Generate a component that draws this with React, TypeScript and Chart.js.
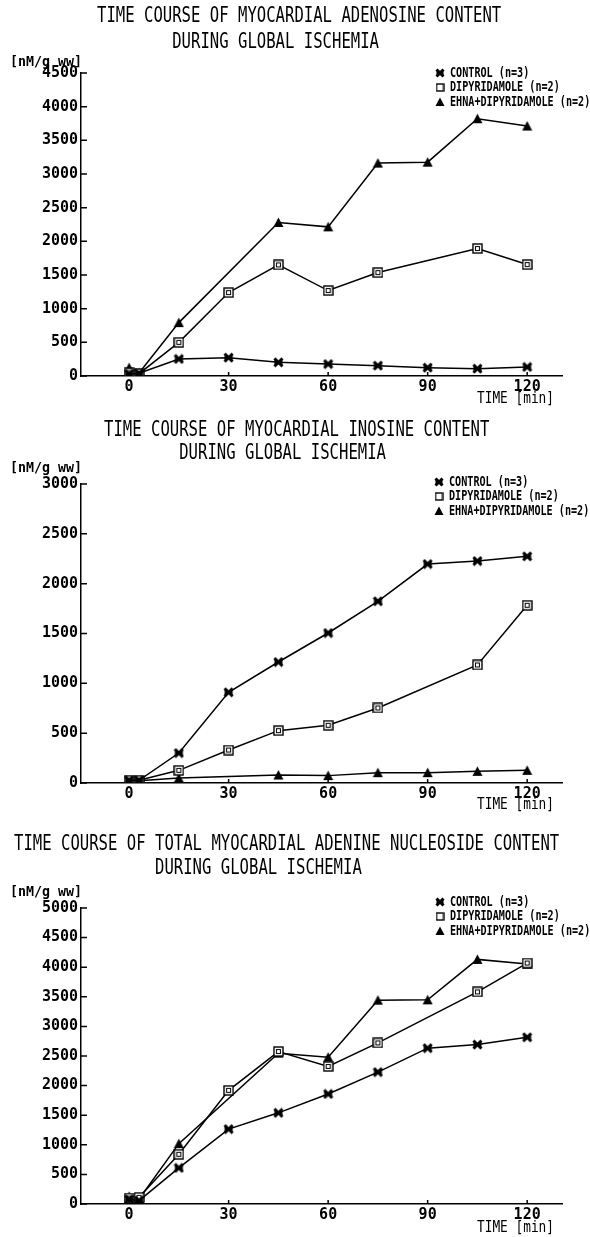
import { useEffect, useRef } from 'react';
import { Chart, registerables } from 'chart.js';

Chart.register(...registerables);

// Sampling times (min) per group
const TIMES_CONTROL = [0, 3, 15, 30, 45, 60, 75, 90, 105, 120];
const TIMES_DIPYRIDAMOLE = [0, 3, 15, 30, 45, 60, 75, 105, 120];
const TIMES_EHNA = [0, 3, 15, 45, 60, 75, 90, 105, 120];
const TIME_TICKS = [0, 30, 60, 90, 120];

const SERIES_LABELS = ['CONTROL (n=3)', 'DIPYRIDAMOLE (n=2)', 'EHNA+DIPYRIDAMOLE (n=2)'];

// Adenosine content [nM/g ww]
const ADENOSINE_CONTROL = [30, 40, 253, 272, 203, 178, 154, 124, 109, 134];
const ADENOSINE_DIPYRIDAMOLE = [45, 35, 500, 1239, 1650, 1269, 1536, 1893, 1655];
const ADENOSINE_EHNA = [125, 45, 793, 2280, 2215, 3162, 3176, 3821, 3712];

// Inosine content [nM/g ww]
const INOSINE_CONTROL = [27, 27, 301, 910, 1214, 1505, 1823, 2197, 2227, 2274];
const INOSINE_DIPYRIDAMOLE = [27, 27, 127, 331, 525, 579, 753, 1184, 1783];
const INOSINE_EHNA = [23, 23, 50, 80, 74, 104, 104, 117, 127];

// Total adenine nucleoside content [nM/g ww]
const TOTAL_CONTROL = [80, 56, 610, 1265, 1540, 1859, 2228, 2632, 2693, 2816];
const TOTAL_DIPYRIDAMOLE = [100, 112, 840, 1920, 2575, 2324, 2721, 3583, 4070];
const TOTAL_EHNA = [129, 84, 1019, 2548, 2480, 3443, 3449, 4132, 4054];

const ADENOSINE_TITLE = ['TIME COURSE OF MYOCARDIAL ADENOSINE CONTENT', 'DURING GLOBAL ISCHEMIA'];
const INOSINE_TITLE = ['TIME COURSE OF MYOCARDIAL INOSINE CONTENT', 'DURING GLOBAL ISCHEMIA'];
const TOTAL_TITLE = ['TIME COURSE OF TOTAL MYOCARDIAL ADENINE NUCLEOSIDE CONTENT', 'DURING GLOBAL ISCHEMIA'];

const Y_UNIT = '[nM/g ww]';
const X_UNIT = 'TIME [min]';
const Y_STEP = 500;
const ADENOSINE_Y_MAX = 4500;
const INOSINE_Y_MAX = 3000;
const TOTAL_Y_MAX = 5000;

const FONT = '"DejaVu Sans Mono", "Liberation Mono", monospace';

const PANELS = [
  {
    top: 0, height: 410, padTop: 73, xAxisH: 34,
    title: ADENOSINE_TITLE, titleX: 97, titleY: [16, 42], indent: 8,
    unitY: 62, timeY: 399, legendY: 73, legendX: 440,
    yMax: ADENOSINE_Y_MAX,
    series: [ADENOSINE_CONTROL, ADENOSINE_DIPYRIDAMOLE, ADENOSINE_EHNA],
  },
  {
    top: 412, height: 400, padTop: 72, xAxisH: 29,
    title: INOSINE_TITLE, titleX: 104, titleY: [18, 41], indent: 8,
    unitY: 56, timeY: 393, legendY: 70, legendX: 439,
    yMax: INOSINE_Y_MAX,
    series: [INOSINE_CONTROL, INOSINE_DIPYRIDAMOLE, INOSINE_EHNA],
  },
  {
    top: 812, height: 425, padTop: 96, xAxisH: 33,
    title: TOTAL_TITLE, titleX: 14, titleY: [32, 56], indent: 15,
    unitY: 80, timeY: 416, legendY: 90, legendX: 440,
    yMax: TOTAL_Y_MAX,
    series: [TOTAL_CONTROL, TOTAL_DIPYRIDAMOLE, TOTAL_EHNA],
  },
];

const SERIES_TIMES = [TIMES_CONTROL, TIMES_DIPYRIDAMOLE, TIMES_EHNA];

// Plotter-style marker glyphs
function makeMarker(kind: string, size: number, inner: boolean) {
  const c = document.createElement('canvas');
  c.width = size;
  c.height = size;
  const ctx = c.getContext('2d')!;
  ctx.fillStyle = '#000';
  ctx.strokeStyle = '#000';
  if (kind === 'cross') {
    const m = 1.5;
    ctx.lineWidth = 3;
    ctx.beginPath();
    ctx.moveTo(m, m);
    ctx.lineTo(size - m, size - m);
    ctx.moveTo(size - m, m);
    ctx.lineTo(m, size - m);
    ctx.stroke();
    ctx.beginPath();
    ctx.moveTo(m, m + 1);
    ctx.lineTo(size / 2, size / 2);
    ctx.lineTo(m, size - m - 1);
    ctx.closePath();
    ctx.moveTo(size - m, m + 1);
    ctx.lineTo(size / 2, size / 2);
    ctx.lineTo(size - m, size - m - 1);
    ctx.closePath();
    ctx.fill();
  } else if (kind === 'square') {
    ctx.fillStyle = '#fff';
    ctx.fillRect(1, 1, size - 2, size - 2);
    ctx.lineWidth = 1.4;
    ctx.strokeRect(1, 1, size - 2, size - 2);
    if (inner) {
      const s = size * 0.36;
      ctx.lineWidth = 1;
      ctx.strokeRect((size - s) / 2, (size - s) / 2, s, s);
    }
  } else {
    ctx.beginPath();
    ctx.moveTo(size / 2, 0.5);
    ctx.lineTo(size - 0.5, size - 1);
    ctx.lineTo(0.5, size - 1);
    ctx.closePath();
    ctx.fill();
  }
  return c;
}

function drawMono(ctx: CanvasRenderingContext2D, text: string, x: number, y: number,
  size: number, advance: number, weight: string) {
  ctx.save();
  ctx.font = `${weight} ${size}px ${FONT}`;
  const natural = ctx.measureText('M').width;
  ctx.translate(x, y);
  ctx.scale(advance / natural, 1);
  ctx.fillStyle = '#000';
  ctx.textAlign = 'left';
  ctx.textBaseline = 'middle';
  ctx.fillText(text, 0, 0);
  ctx.restore();
}

const annotationPlugin = {
  id: 'plotterAnnotations',
  afterDraw(chart: any, _args: any, opts: any) {
    const ctx = chart.ctx as CanvasRenderingContext2D;
    const { chartArea, scales } = chart;
    const p = opts.panel;

    // inward tick marks
    ctx.save();
    ctx.strokeStyle = '#000';
    ctx.lineWidth = 1.5;
    ctx.beginPath();
    scales.y.ticks.forEach((t: any) => {
      const py = scales.y.getPixelForValue(t.value);
      ctx.moveTo(chartArea.left, py);
      ctx.lineTo(chartArea.left + 6, py);
    });
    scales.x.ticks.forEach((t: any) => {
      const px = scales.x.getPixelForValue(t.value);
      ctx.moveTo(px, chartArea.bottom);
      ctx.lineTo(px, chartArea.bottom - 4);
    });
    ctx.stroke();
    ctx.restore();

    // title
    drawMono(ctx, p.title[0], p.titleX, p.titleY[0], 22, 9.4, 'normal');
    drawMono(ctx, p.title[1], p.titleX + p.indent * 9.4, p.titleY[1], 22, 9.4, 'normal');

    // axis units
    drawMono(ctx, Y_UNIT, 10, p.unitY, 14, 8.0, 'bold');
    drawMono(ctx, X_UNIT, 477, p.timeY, 16, 7.7, 'normal');

    // legend
    chart.data.datasets.forEach((ds: any, i: number) => {
      const y = p.legendY + i * 14.5;
      const m = opts.legendMarkers[i];
      ctx.drawImage(m, p.legendX - m.width / 2, y - m.height / 2);
      drawMono(ctx, ds.label, p.legendX + 10, y, 14, 6.1, 'bold');
    });
  },
};

export default function App() {
  const refs = [useRef<HTMLCanvasElement>(null), useRef<HTMLCanvasElement>(null), useRef<HTMLCanvasElement>(null)];

  useEffect(() => {
    const pointMarkers = [makeMarker('cross', 11, false), makeMarker('square', 11, true), makeMarker('triangle', 11, false)];
    const legendMarkers = [makeMarker('cross', 10, false), makeMarker('square', 9, false), makeMarker('triangle', 10, false)];

    const charts = PANELS.map((panel, idx) => {
      const canvas = refs[idx].current!;
      const datasets = panel.series.map((values, s) => ({
        label: SERIES_LABELS[s],
        data: values.map((v, k) => ({ x: SERIES_TIMES[s][k], y: v })),
        borderColor: '#000',
        borderWidth: 1.5,
        backgroundColor: '#000',
        pointStyle: pointMarkers[s],
        pointRadius: 5,
        tension: 0,
        fill: false,
      }));
      return new Chart(canvas, {
        type: 'line',
        data: { datasets },
        plugins: [annotationPlugin],
        options: {
          animation: false,
          responsive: false,
          events: [],
          layout: { padding: { top: panel.padTop, right: 28, left: 0, bottom: 0 } },
          plugins: {
            legend: { display: false },
            tooltip: { enabled: false },
            plotterAnnotations: { panel, legendMarkers },
          } as any,
          scales: {
            x: {
              type: 'linear',
              min: -14.5,
              max: 130.5,
              afterBuildTicks: (s: any) => { s.ticks = TIME_TICKS.map((v) => ({ value: v })); },
              afterFit: (s: any) => { s.height = panel.xAxisH; },
              grid: { display: false, drawTicks: false },
              border: { display: true, color: '#000', width: 1.5 },
              ticks: {
                color: '#000',
                padding: 2,
                maxRotation: 0,
                callback: (v: any) => String(v),
                font: { family: FONT, size: 15, weight: 'bold' },
              },
            },
            y: {
              type: 'linear',
              min: 0,
              max: panel.yMax,
              afterFit: (s: any) => { s.width = 81; },
              grid: { display: false, drawTicks: false },
              border: { display: true, color: '#000', width: 1.5 },
              ticks: {
                stepSize: Y_STEP,
                color: '#000',
                padding: 3,
                callback: (v: any) => String(v),
                font: { family: FONT, size: 15, weight: 'bold' },
              },
            },
          },
        },
      });
    });
    return () => charts.forEach((c) => c.destroy());
  }, []);

  return (
    <div style={{ position: 'absolute', left: 0, top: 0, width: 590, height: 1237, background: '#fff' }}>
      {PANELS.map((p, i) => (
        <canvas
          key={i}
          ref={refs[i]}
          width={590}
          height={p.height}
          style={{ position: 'absolute', left: 0, top: p.top, width: 590, height: p.height }}
        />
      ))}
    </div>
  );
}
